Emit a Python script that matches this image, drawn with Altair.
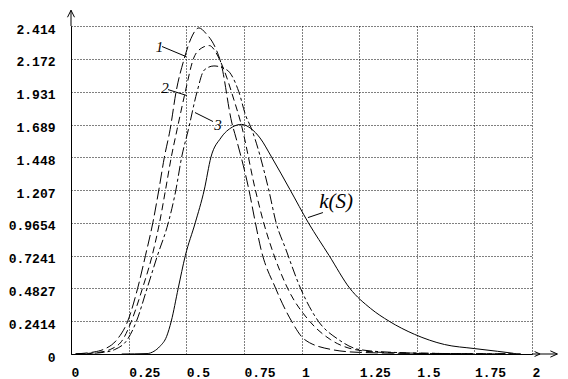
import altair as alt
import pandas as pd

# axis ticks
x_ticks = [0, 0.25, 0.5, 0.75, 1, 1.25, 1.5, 1.75, 2]
y_ticks = [0, 0.2414, 0.4827, 0.7241, 0.9654, 1.207, 1.448, 1.689, 1.931, 2.172, 2.414]

# curve 1 (long dashes)
c1_x = [0.02, 0.06, 0.10, 0.14, 0.20, 0.246, 0.289, 0.323, 0.355, 0.381, 0.405, 0.43, 0.456, 0.491, 0.52, 0.555, 0.585, 0.63, 0.65, 0.698, 0.716, 0.772, 0.80, 0.823, 0.888, 0.957, 1.013, 1.13, 1.25, 1.5, 1.95]
c1_y = [0.0, 0.006, 0.015, 0.033, 0.107, 0.2414, 0.4827, 0.7241, 0.9654, 1.207, 1.448, 1.652, 1.931, 2.172, 2.32, 2.40, 2.36, 2.24, 2.145, 1.70, 1.59, 1.207, 0.9654, 0.78, 0.4827, 0.2414, 0.107, 0.033, 0.012, 0.004, 0.0]

# curve 2 (medium dashes)
c2_x = [0.02, 0.07, 0.12, 0.17, 0.225, 0.262, 0.31, 0.352, 0.384, 0.41, 0.435, 0.46, 0.496, 0.531, 0.565, 0.60, 0.635, 0.664, 0.707, 0.737, 0.80, 0.836, 0.87, 0.94, 1.035, 1.125, 1.23, 1.35, 1.6, 1.95]
c2_y = [0.0, 0.004, 0.012, 0.033, 0.107, 0.2414, 0.4827, 0.7241, 0.9654, 1.207, 1.448, 1.65, 1.931, 2.172, 2.25, 2.27, 2.20, 2.09, 1.87, 1.70, 1.207, 0.9654, 0.78, 0.4827, 0.2414, 0.107, 0.033, 0.012, 0.004, 0.0]

# curve 3 (dash-dot)
c3_x = [0.02, 0.08, 0.14, 0.19, 0.245, 0.284, 0.33, 0.375, 0.422, 0.455, 0.48, 0.509, 0.547, 0.578, 0.62, 0.677, 0.728, 0.759, 0.78, 0.858, 0.89, 0.93, 0.996, 1.073, 1.16, 1.25, 1.4, 1.6, 1.95]
c3_y = [0.0, 0.004, 0.012, 0.033, 0.107, 0.2414, 0.4827, 0.7241, 0.9654, 1.207, 1.448, 1.65, 1.931, 2.09, 2.12, 2.09, 1.93, 1.75, 1.67, 1.207, 0.9654, 0.78, 0.4827, 0.2414, 0.107, 0.033, 0.012, 0.004, 0.0]

# k(S) solid
ks_x = [0.22, 0.33, 0.36, 0.385, 0.415, 0.435, 0.465, 0.496, 0.539, 0.578, 0.607, 0.65, 0.70, 0.74, 0.78, 0.82, 0.87, 0.95, 1.03, 1.12, 1.21, 1.30, 1.38, 1.49, 1.62, 1.75, 1.85, 1.92]
ks_y = [0.0, 0.003, 0.02, 0.055, 0.13, 0.2414, 0.4827, 0.7241, 0.9654, 1.207, 1.448, 1.59, 1.67, 1.69, 1.66, 1.59, 1.45, 1.21, 0.9654, 0.7241, 0.4827, 0.335, 0.2414, 0.145, 0.07, 0.04, 0.02, 0.005]

# curve labels and leader lines
lab_text = ["1", "2", "3"]
lab_x = [0.384, 0.408, 0.638]
lab_y = [2.259, 1.961, 1.685]
lead_x = [0.395, 0.421, 0.616, 1.093]
lead_y = [2.263, 1.946, 1.711, 1.041]
lead_x2 = [0.499, 0.503, 0.538, 1.028]
lead_y2 = [2.189, 1.902, 1.777, 1.004]
ks_label = ["k(S)"]
ks_label_x = [1.150]
ks_label_y = [1.122]

# axis extensions with arrows
axis_ext_x = [0, 2]
axis_ext_y = [2.414, 0]
axis_ext_x2 = [0, 2.11]
axis_ext_y2 = [2.53, 0]

XS = alt.Scale(domain=[0, 2], nice=False, zero=False)
YS = alt.Scale(domain=[0, 2.414], nice=False, zero=False)
FONT = "Liberation Mono"

XAX = alt.Axis(values=x_ticks, tickCount=20, grid=True, gridDash=[1, 2],
               gridColor="black", gridOpacity=1, ticks=False, domainColor="black",
               labelAlign="left", labelPadding=12, labelFont=FONT, labelFontSize=13,
               labelFontWeight="bold", labelColor="black", labelFlush=False,
               labelOverlap=False, labelExpr="datum.value")
YAX = alt.Axis(values=y_ticks, tickCount=20, grid=True, gridDash=[1, 2],
               gridColor="black", gridOpacity=1, ticks=False, domainColor="black",
               labelAlign="right", labelBaseline="top", labelPadding=16, labelOffset=-3,
               labelFont=FONT, labelFontSize=13, labelFontWeight="bold",
               labelColor="black", labelFlush=False, labelOverlap=False,
               labelExpr="datum.value")


def X(f="x:Q"):
    return alt.X(f, scale=XS, title=None, axis=XAX)


def Y(f="y:Q"):
    return alt.Y(f, scale=YS, title=None, axis=YAX)


def curve(xs, ys, dash):
    df = pd.DataFrame({"x": xs, "y": ys, "i": list(range(len(xs)))})
    if dash:
        m = alt.Chart(df).mark_line(color="black", strokeWidth=1, interpolate="monotone",
                                    strokeDash=dash)
    else:
        m = alt.Chart(df).mark_line(color="black", strokeWidth=1, interpolate="monotone")
    return m.encode(x=X(), y=Y(), order="i:Q")


ext_df = pd.DataFrame({"x": axis_ext_x, "y": axis_ext_y, "x2": axis_ext_x2, "y2": axis_ext_y2})
ext = alt.Chart(ext_df).mark_rule(color="black", strokeWidth=1).encode(
    x=X(), y=Y(), x2="x2:Q", y2="y2:Q")

up_df = pd.DataFrame({"x": [0], "y": [2.53]})
up = alt.Chart(up_df).mark_point(shape="M-0.5,1L0,0L0.5,1", filled=False, size=196,
                                 color="black", strokeWidth=1, opacity=1).encode(x=X(), y=Y())
right_df = pd.DataFrame({"x": [2.11, 2.035], "y": [0, 0], "s": [196, 120]})
right = alt.Chart(right_df).mark_point(shape="M-1,-0.45L0,0L-1,0.45", filled=False,
                                       color="black", strokeWidth=1, opacity=1).encode(
    x=X(), y=Y(), size=alt.Size("s:Q", scale=None, legend=None))

lead_df = pd.DataFrame({"x": lead_x, "y": lead_y, "x2": lead_x2, "y2": lead_y2})
leads = alt.Chart(lead_df).mark_rule(color="black", strokeWidth=1).encode(
    x=X(), y=Y(), x2="x2:Q", y2="y2:Q")

lab_df = pd.DataFrame({"x": lab_x, "y": lab_y, "t": lab_text})
labs = alt.Chart(lab_df).mark_text(font="Liberation Serif", fontStyle="italic", fontSize=15,
                                   color="black", align="center", baseline="middle").encode(
    x=X(), y=Y(), text="t:N")

ksl_df = pd.DataFrame({"x": ks_label_x, "y": ks_label_y, "t": ks_label})
ksl = alt.Chart(ksl_df).mark_text(font="Liberation Serif", fontStyle="italic", fontSize=21,
                                  color="black", align="center", baseline="middle").encode(
    x=X(), y=Y(), text="t:N")

chart = alt.layer(
    ext, up, right,
    curve(ks_x, ks_y, None),
    curve(c1_x, c1_y, [12, 4]),
    curve(c2_x, c2_y, [7, 4]),
    curve(c3_x, c3_y, [10, 3, 3, 3]),
    leads, labs, ksl,
).properties(
    width=461, height=328,
    padding={"left": 63, "top": 18, "right": 28, "bottom": 26},
    autosize=alt.AutoSizeParams(type="none"),
    background="white",
).configure_view(stroke=None)

chart.save("out.html", embed_options={"renderer": "svg", "actions": False})
